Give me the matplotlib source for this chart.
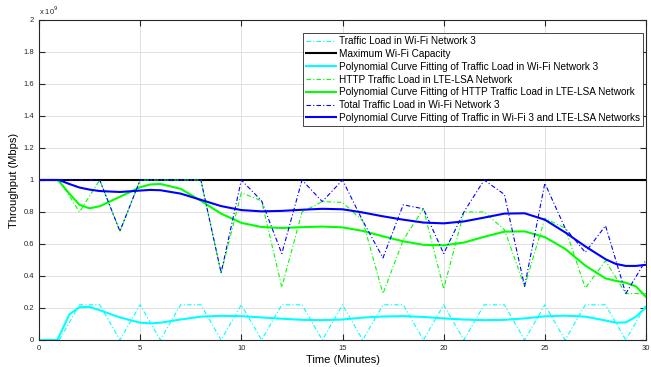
import numpy as np
import matplotlib
matplotlib.use("Agg")
import matplotlib.pyplot as plt
from matplotlib.ticker import FuncFormatter

plt.rcParams['font.family'] = ['Liberation Sans', 'DejaVu Sans']

# raw traffic samples, one per minute (units of 1e9)
minutes = list(range(0, 31))
wifi_load = [0, 0, 0.22, 0.22, 0, 0.22, 0, 0.22, 0.22, 0, 0.22, 0, 0.22, 0.22, 0, 0.22,
             0, 0.22, 0.22, 0, 0.22, 0, 0.22, 0.22, 0, 0.22, 0, 0.22, 0.22, 0, 0.22]
http_load = [1, 1, 0.8, 1, 0.68, 1, 1, 1, 1, 0.42, 0.92, 0.87, 0.33, 0.80, 0.865, 0.86,
             0.745, 0.29, 0.625, 0.82, 0.32, 0.80, 0.80, 0.69, 0.335, 0.76, 0.70, 0.325,
             0.495, 0.29, 0.29]
total_load = [1, 1, 1, 1, 0.68, 1, 1, 1, 1, 0.42, 1, 0.87, 0.54, 1, 0.865, 1,
              0.745, 0.513, 0.845, 0.82, 0.54, 0.80, 1, 0.91, 0.335, 0.98, 0.70, 0.548,
              0.714, 0.29, 0.50]
max_capacity = 1

# fitted curves
fit_t = [0, 0.9, 1, 1.5, 2, 2.5, 3, 4, 5, 5.5, 6, 7, 8, 9, 10, 11, 12, 13, 14, 15,
         16, 17, 18, 19, 20, 21, 22, 23, 24, 25, 26, 27, 28, 28.5, 29, 29.5, 30]
wifi_fit = [0, 0, 0.025, 0.16, 0.205, 0.207, 0.186, 0.141, 0.108, 0.104, 0.108, 0.128,
            0.146, 0.151, 0.149, 0.141, 0.133, 0.126, 0.124, 0.128, 0.14, 0.147, 0.149,
            0.144, 0.135, 0.128, 0.124, 0.126, 0.135, 0.148, 0.152, 0.146, 0.122, 0.108,
            0.11, 0.145, 0.205]
http_fit = [1, 1, 0.99, 0.915, 0.845, 0.823, 0.836, 0.895, 0.955, 0.972, 0.975, 0.945,
            0.87, 0.79, 0.732, 0.706, 0.70, 0.705, 0.709, 0.704, 0.682, 0.648, 0.617,
            0.595, 0.592, 0.609, 0.645, 0.677, 0.679, 0.643, 0.57, 0.465, 0.385, 0.37,
            0.358, 0.335, 0.27]
total_fit = [1, 1, 1, 0.975, 0.953, 0.94, 0.931, 0.925, 0.934, 0.938, 0.936, 0.915,
             0.876, 0.837, 0.812, 0.804, 0.807, 0.814, 0.82, 0.817, 0.797, 0.773, 0.752,
             0.734, 0.729, 0.741, 0.765, 0.79, 0.792, 0.752, 0.673, 0.585, 0.505, 0.476,
             0.463, 0.463, 0.47]

labels = ['Traffic Load in Wi-Fi Network 3',
          'Maximum Wi-Fi Capacity',
          'Polynomial Curve Fitting of Traffic Load in Wi-Fi Network 3',
          'HTTP Traffic Load in LTE-LSA Network',
          'Polynomial Curve Fitting of HTTP Traffic Load in LTE-LSA Network',
          'Total Traffic Load in Wi-Fi Network 3',
          'Polynomial Curve Fitting of Traffic in Wi-Fi 3 and LTE-LSA Networks']

scale = 1e9
dd = (0, (4, 2, 1, 2))

fig = plt.figure(figsize=(6.51, 3.67), dpi=100)
ax = fig.add_axes([39 / 651, 1 - 340 / 367, 607 / 651, 320 / 367])

t = np.array(minutes)
ax.plot(t, np.array(wifi_load) * scale, color='#00ffff', lw=0.8, linestyle=dd, label=labels[0])
ax.plot([0, 30], [max_capacity * scale] * 2, color='black', lw=1.5, label=labels[1])
ax.plot(fit_t, np.array(wifi_fit) * scale, color='#00ffff', lw=1.5, label=labels[2])
ax.plot(t, np.array(http_load) * scale, color='#00ff00', lw=0.8, linestyle=dd, label=labels[3])
ax.plot(fit_t, np.array(http_fit) * scale, color='#00ff00', lw=1.5, label=labels[4])
ax.plot(t, np.array(total_load) * scale, color='#0000ff', lw=0.8, linestyle=dd, label=labels[5])
ax.plot(fit_t, np.array(total_fit) * scale, color='#0000ff', lw=1.5, label=labels[6])

ax.set_xlim(0, 30)
ax.set_ylim(0, 2e9)
ax.set_xticks(range(0, 31, 5))
ax.set_yticks(np.arange(0, 2.01, 0.2) * scale)
ax.yaxis.set_major_formatter(FuncFormatter(lambda v, p: '%g' % round(v / scale, 1)))
ax.text(0.0, 1.008, r'x 10$^9$', transform=ax.transAxes, fontsize=5.5,
        color='#262626', ha='left', va='bottom')
ax.tick_params(direction='in', length=4, width=0.8, labelsize=5.5, colors='#262626',
               top=True, right=True)
ax.grid(True, color='#dcdcdc', lw=0.6)
for s in ax.spines.values():
    s.set_color('#262626')
    s.set_linewidth(0.8)

ax.set_xlabel('Time (Minutes)', fontsize=8, labelpad=2)
ax.set_ylabel('Throughput (Mbps)', fontsize=8, labelpad=3)

leg = ax.legend(loc='upper right', bbox_to_anchor=(0.995, 0.959), borderaxespad=0,
                fontsize=7.2, handlelength=3.0, handletextpad=0.3, labelspacing=0.28,
                borderpad=0.3, fancybox=False, framealpha=1, edgecolor='#262626')
leg.get_frame().set_linewidth(0.6)

fig.savefig('out.png', dpi=100)
